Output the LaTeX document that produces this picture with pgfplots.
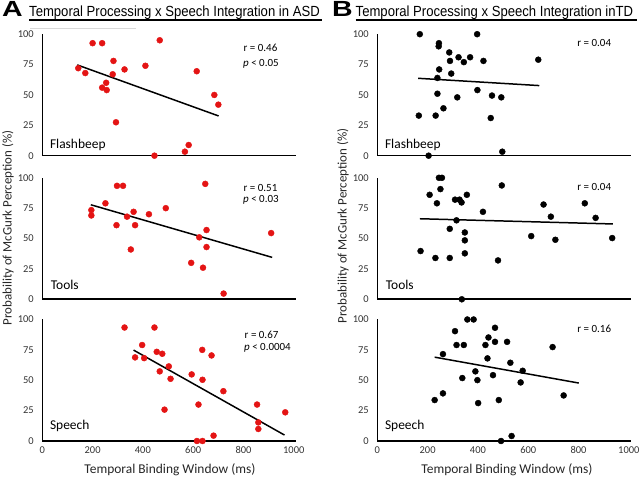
\documentclass[border=0pt]{standalone}
\usepackage{pgfplots}
\pgfplotsset{compat=1.18}
\usepackage{fontspec}
\setmainfont{Carlito}
\newfontfamily\titlefont{Liberation Sans}
\definecolor{dotred}{RGB}{228,20,20}
\pgfplotsset{
  panel/.style={
    scale only axis, width=254bp, height=121.5bp,
    xmin=0, xmax=1010, ymin=0, ymax=100,
    axis lines*=left, axis line style={line width=1.6pt},
    clip=false, anchor=south west,
    xtick={0,200,...,1000}, ytick={0,25,50,75,100},
    major tick length=0pt,
    tick label style={font=\fontsize{10.5}{12}\selectfont, text=black!80},
    /pgf/number format/assume math mode=true,
    /pgf/number format/1000 sep={},
    yticklabel style={xshift=-5bp},
    xticklabel style={yshift=-2bp},
  },
  notx/.style={xticklabels={}},
  red dots/.style={only marks, mark=*, mark size=3bp, color=dotred},
  black dots/.style={only marks, mark=*, mark size=3bp, color=black},
  fit/.style={no marks, line width=1.5pt, black},
}
\newcommand{\stat}{\fontsize{11}{13}\selectfont}
\newcommand{\cond}{\fontsize{13.5}{15}\selectfont}
\begin{document}
\begin{tikzpicture}[x=1bp,y=1bp]
\path[use as bounding box] (0,0) rectangle (640,479);
% titles
\node[anchor=base west, inner sep=0] at (2,462) {\titlefont\bfseries\scalebox{1.3}[1]{\fontsize{22}{24}\selectfont A}};
\node[anchor=base west, inner sep=0] at (29,462) {\titlefont\scalebox{1}[1.12]{\fontsize{13.15}{15}\selectfont Temporal Processing x Speech Integration in ASD}};
\draw[line width=1.2pt] (29,459) -- (322,459);
\draw[black!15, line width=0.6pt] (30,451) -- (136,451);
\node[anchor=base west, inner sep=0] at (332,462) {\titlefont\bfseries\scalebox{1.3}[1]{\fontsize{22}{24}\selectfont B}};
\node[anchor=base west, inner sep=0] at (355.5,462) {\titlefont\scalebox{1}[1.12]{\fontsize{13.15}{15}\selectfont Temporal Processing x Speech Integration inTD}};
\draw[line width=1.2pt] (355.5,459) -- (637,459);
% y labels
\node[rotate=90, text=black!85] at (8,251) {\fontsize{13}{15}\selectfont Probability of McGurk Perception (\%)};
\node[rotate=90, text=black!85] at (343,253) {\fontsize{13}{15}\selectfont Probability of McGurk Perception (\%)};
% x labels
\node[text=black!85] at (170,9) {\fontsize{13.5}{15}\selectfont Temporal Binding Window (ms)};
\node[text=black!85] at (507,9) {\fontsize{13.5}{15}\selectfont Temporal Binding Window (ms)};

% ---------- A: Flashbeep
\begin{axis}[panel, notx, at={(42.3bp,323.3bp)}]
\addplot[red dots] coordinates {(143,72) (171,68) (200,92.6) (238,92.6) (283,78) (280,67) (254,60) (238,56) (256,54) (293,27.5) (327,71) (410,74) (467,95) (614,69.5) (684,50) (700,42) (582,8.8) (567,3.3) (446,0)};
\addplot[fit] coordinates {(139,74.7) (701,32.7)};
\node[anchor=west, inner sep=0] at (axis cs:800,88.5) {\stat r = 0.46};
\node[anchor=west, inner sep=0] at (axis cs:798,76) {\stat \emph{p} < 0.05};
\node[anchor=west, inner sep=0] at (axis cs:30,8.5) {\cond Flashbeep};
\end{axis}
% ---------- A: Tools
\begin{axis}[panel, notx, at={(42.3bp,179.7bp)}]
\addplot[red dots] coordinates {(195,73.4) (195,69) (251,79) (297,93.4) (321,93.4) (295,61) (337,68) (363,72) (369,61) (424,70) (352,41) (491,75) (648,95) (653,57) (624,51) (653,43) (592,30) (639,26) (910,54.5) (721,4.7)};
\addplot[fit] coordinates {(193,77.8) (914,34.5)};
\node[anchor=west, inner sep=0] at (axis cs:800,92) {\stat r = 0.51};
\node[anchor=west, inner sep=0] at (axis cs:798,82) {\stat \emph{p} < 0.03};
\node[anchor=west, inner sep=0] at (axis cs:33,12) {\cond Tools};
\end{axis}
% ---------- A: Speech
\begin{axis}[panel, at={(42.3bp,38bp)}]
\addplot[red dots] coordinates {(327,93.4) (446,93.4) (397,79) (369,68.8) (405,68.2) (455,73.4) (477,71.8) (503,61.4) (467,57.3) (510,51.2) (594,54.8) (636,75) (673,70.4) (637,50.4) (720,41) (486,25.8) (621,30) (854,30) (966,23.6) (859,15.3) (859,9.9) (681,4.4) (615,0) (637,0)};
\addplot[fit] coordinates {(363,74.8) (963,4.9)};
\node[anchor=west, inner sep=0] at (axis cs:804,87.7) {\stat r = 0.67};
\node[anchor=west, inner sep=0] at (axis cs:802,76.7) {\stat \emph{p} < 0.0004};
\node[anchor=west, inner sep=0] at (axis cs:30,12.3) {\cond Speech};
\end{axis}

% ---------- B: Flashbeep
\begin{axis}[panel, notx, at={(377.3bp,323.3bp)}]
\addplot[black dots] coordinates {(169,100) (397,100) (245,92.6) (244,90) (286,85) (323,81) (369,81) (344,77) (289,78) (422,78) (640,79) (246,71) (294,67.6) (239,64) (398,54) (239,51) (318,48) (456,49.5) (493,48) (165,33) (232,33) (263,39) (451,31) (497,3.3) (204,0)};
\addplot[fit] coordinates {(162,63.7) (644,57.7)};
\node[anchor=west, inner sep=0] at (axis cs:795,92.6) {\stat r = 0.04};
\node[anchor=west, inner sep=0] at (axis cs:30,8.5) {\cond Flashbeep};
\end{axis}
% ---------- B: Tools
\begin{axis}[panel, notx, at={(377.3bp,179.7bp)}]
\addplot[black dots] coordinates {(245,100) (257,100) (208,86) (251,90.7) (237,79) (309,82) (327,82) (335,79.7) (356,86) (495,93.7) (420,72) (315,65) (288,58) (348,55) (348,48.5) (348,37.8) (172,39.7) (231,34) (288,34) (480,32) (612,52) (661,78) (690,68) (708,49) (825,79) (868,67) (934,50.4) (336,0)};
\addplot[fit] coordinates {(169,66.3) (937,62)};
\node[anchor=west, inner sep=0] at (axis cs:795,92.6) {\stat r = 0.04};
\node[anchor=west, inner sep=0] at (axis cs:33,12) {\cond Tools};
\end{axis}
% ---------- B: Speech
\begin{axis}[panel, at={(377.3bp,38bp)}]
\addplot[black dots] coordinates {(358,100) (383,100) (309,90.4) (468,93.2) (442,85.2) (468,81.6) (430,79) (516,81.6) (315,79) (344,79) (697,77.3) (261,71.5) (438,68) (529,64.4) (390,57.3) (578,57.8) (460,54.2) (338,51.8) (398,50.1) (570,48.2) (228,33.7) (261,39.2) (401,31.2) (483,33.7) (741,37.5) (534,4.1) (492,0)};
\addplot[fit] coordinates {(228,69) (801,47.7)};
\node[anchor=west, inner sep=0] at (axis cs:795,92.6) {\stat r = 0.16};
\node[anchor=west, inner sep=0] at (axis cs:30,12.3) {\cond Speech};
\end{axis}
\end{tikzpicture}
\end{document}
